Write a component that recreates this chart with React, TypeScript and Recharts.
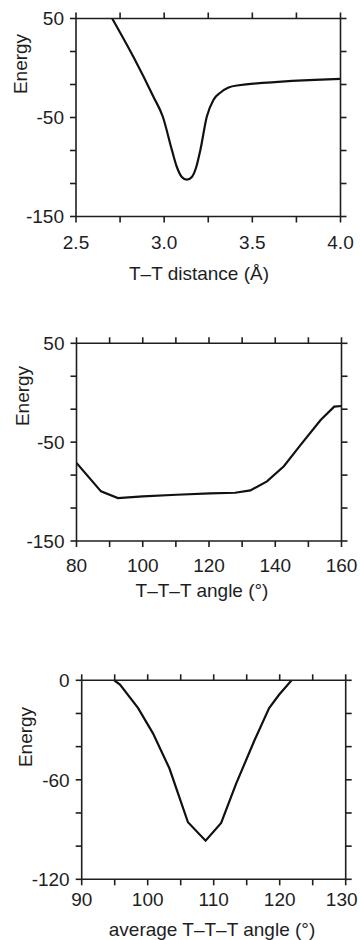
import React from 'react';
import { LineChart, Line, XAxis, YAxis } from 'recharts';

// Panel 1: energy vs T–T distance
const distX = [2.705, 2.826, 2.939, 2.992, 3.044, 3.072, 3.1, 3.129, 3.157, 3.182, 3.205, 3.242, 3.28, 3.318, 3.365, 3.413, 4.0];
const distE = [50, 11, -29, -49, -83, -100, -110, -112.8, -110, -100, -83, -49, -32, -25, -19.7, -17.7, -10.9];
const distTicks = [2.5, 2.75, 3.0, 3.25, 3.5, 3.75, 4.0];
const distLabels = [2.5, 3.0, 3.5, 4.0];

// Panel 2: energy vs T–T–T angle
const angX = [80, 87.4, 92.5, 100, 110.2, 120.3, 127.9, 132.5, 137.5, 142.6, 147.6, 153.7, 157.8, 160];
const angE = [-71, -99.8, -106.6, -104.9, -103.2, -101.9, -101.2, -98.8, -89.7, -74.4, -53, -27.6, -14.1, -13.4];
const angTicks = [80, 90, 100, 110, 120, 130, 140, 150, 160];
const angLabels = [80, 100, 120, 140, 160];

// Panel 3: energy vs average T–T–T angle
const avgX = [94.93, 95.8, 98.55, 100.8, 103.3, 106.1, 108.77, 111.13, 113.4, 116.2, 118.4, 119.9, 121.8];
const avgE = [0, -2.6, -16.8, -32, -53.2, -85.6, -96.7, -86, -62.3, -36, -16.8, -8.7, 0];
const avgTicks = [90, 95, 100, 105, 110, 115, 120, 125, 130];
const avgLabels = [90, 100, 110, 120, 130];

const eTicks150 = [50, 16.667, -16.667, -50, -83.333, -116.667, -150];
const eLabels150 = [50, -50, -150];
const eTicks120 = [0, -20, -40, -60, -80, -100, -120];
const eLabels120 = [0, -60, -120];

const FONT = '"Liberation Sans", Arial, Helvetica, sans-serif';
const INK = '#1e1e1e';
const FS = 19;

type PanelProps = {
  top: number;
  mt: number;
  plotH: number;
  plotLeft: number;
  plotRight: number;
  xs: number[];
  ys: number[];
  xDomain: [number, number];
  xTicks: number[];
  xLabels: number[];
  xDigits: number;
  yDomain: [number, number];
  yTicks: number[];
  yLabels: number[];
  xTickMargin: number;
  lastShift: number;
  curve: 'monotone' | 'linear';
};

const near = (v: number, list: number[]) => list.some((l) => Math.abs(l - v) < 1e-6);

function makeXTick(labels: number[], digits: number, lastValue: number, lastShift: number) {
  return function XTick(props: any) {
    const { x, y, payload } = props;
    const v = payload.value as number;
    if (!near(v, labels)) return <g />;
    const dx = Math.abs(v - lastValue) < 1e-6 ? lastShift : 0;
    return (
      <text
        x={x + dx}
        y={y}
        dy="0.71em"
        textAnchor="middle"
        fill={INK}
        fontSize={FS}
        fontFamily={FONT}
      >
        {v.toFixed(digits)}
      </text>
    );
  };
}

function Panel(p: PanelProps) {
  const H = 260;
  const W = 360;
  const data = p.xs.map((x, i) => ({ x, e: p.ys[i] }));
  const tickStyle = { fill: INK, fontSize: FS, fontFamily: FONT };
  const common = {
    stroke: INK,
    strokeWidth: 1.6,
    axisLine: true,
    tickLine: true,
    tickSize: 6,
    interval: 0 as const,
    allowDataOverflow: true,
    type: 'number' as const,
    tick: tickStyle,
  };
  const XTick = makeXTick(p.xLabels, p.xDigits, p.xDomain[1], p.lastShift);
  return (
    <div style={{ position: 'absolute', left: 0, top: p.top, width: W, height: H }}>
      <LineChart
        width={W}
        height={H}
        data={data}
        margin={{ top: p.mt - 1, right: W - p.plotRight - 1, bottom: 0, left: 0 }}
      >
        <XAxis
          {...common}
          xAxisId="b"
          dataKey="x"
          domain={p.xDomain}
          ticks={p.xTicks}
          height={H - p.mt - p.plotH}
          tickMargin={p.xTickMargin}
          tick={<XTick />}
        />
        <XAxis
          {...common}
          xAxisId="t"
          orientation="top"
          dataKey="x"
          domain={p.xDomain}
          ticks={p.xTicks}
          height={1}
          tickFormatter={() => ''}
        />
        <YAxis
          {...common}
          yAxisId="l"
          domain={p.yDomain}
          ticks={p.yTicks}
          width={p.plotLeft}
          tickMargin={6}
          tickFormatter={(v: number) => (near(v, p.yLabels) ? String(Math.round(v)) : '')}
        />
        <YAxis
          {...common}
          yAxisId="r"
          orientation="right"
          domain={p.yDomain}
          ticks={p.yTicks}
          width={1}
          tickFormatter={() => ''}
        />
        <Line
          xAxisId="b"
          yAxisId="l"
          dataKey="e"
          type={p.curve}
          stroke="#111"
          strokeWidth={2.2}
          dot={false}
          isAnimationActive={false}
        />
      </LineChart>
    </div>
  );
}

const textBase: React.CSSProperties = {
  position: 'absolute',
  fontFamily: FONT,
  fontSize: FS,
  color: INK,
  lineHeight: `${FS}px`,
  whiteSpace: 'nowrap',
};

function Title({ x, y, text, rotate }: { x: number; y: number; text: string; rotate?: boolean }) {
  return (
    <div
      style={{
        ...textBase,
        left: x,
        top: y,
        transform: rotate ? 'translate(-50%, -50%) rotate(-90deg)' : 'translate(-50%, -50%)',
      }}
    >
      {text}
    </div>
  );
}

export default function App() {
  return (
    <div style={{ position: 'absolute', left: 0, top: 0, width: 360, height: 940, background: '#fff', overflow: 'hidden' }}>
      <Panel
        top={0}
        mt={18.5}
        plotH={198}
        plotLeft={76}
        plotRight={340.5}
        xs={distX}
        ys={distE}
        xDomain={[2.5, 4.0]}
        xTicks={distTicks}
        xLabels={distLabels}
        xDigits={1}
        yDomain={[-150, 50]}
        yTicks={eTicks150}
        yLabels={eLabels150}
        xTickMargin={13.5}
        lastShift={0}
        curve="monotone"
      />
      <Panel
        top={320}
        mt={23.3}
        plotH={197.7}
        plotLeft={76.5}
        plotRight={341.5}
        xs={angX}
        ys={angE}
        xDomain={[80, 160]}
        xTicks={angTicks}
        xLabels={angLabels}
        xDigits={0}
        yDomain={[-150, 50]}
        yTicks={eTicks150}
        yLabels={eLabels150}
        xTickMargin={11.5}
        lastShift={0}
        curve="linear"
      />
      <Panel
        top={660}
        mt={20.3}
        plotH={199}
        plotLeft={81.7}
        plotRight={345.7}
        xs={avgX}
        ys={avgE}
        xDomain={[90, 130]}
        xTicks={avgTicks}
        xLabels={avgLabels}
        xDigits={0}
        yDomain={[-120, 0]}
        yTicks={eTicks120}
        yLabels={eLabels120}
        xTickMargin={7.5}
        lastShift={-4}
        curve="linear"
      />
      <Title x={20} y={64} text="Energy" rotate />
      <Title x={199} y={273} text="T–T distance (Å)" />
      <Title x={22} y={396} text="Energy" rotate />
      <Title x={202} y={590} text="T–T–T angle (°)" />
      <Title x={25} y={737} text="Energy" rotate />
      <Title x={212} y={929} text="average T–T–T angle (°)" />
    </div>
  );
}
